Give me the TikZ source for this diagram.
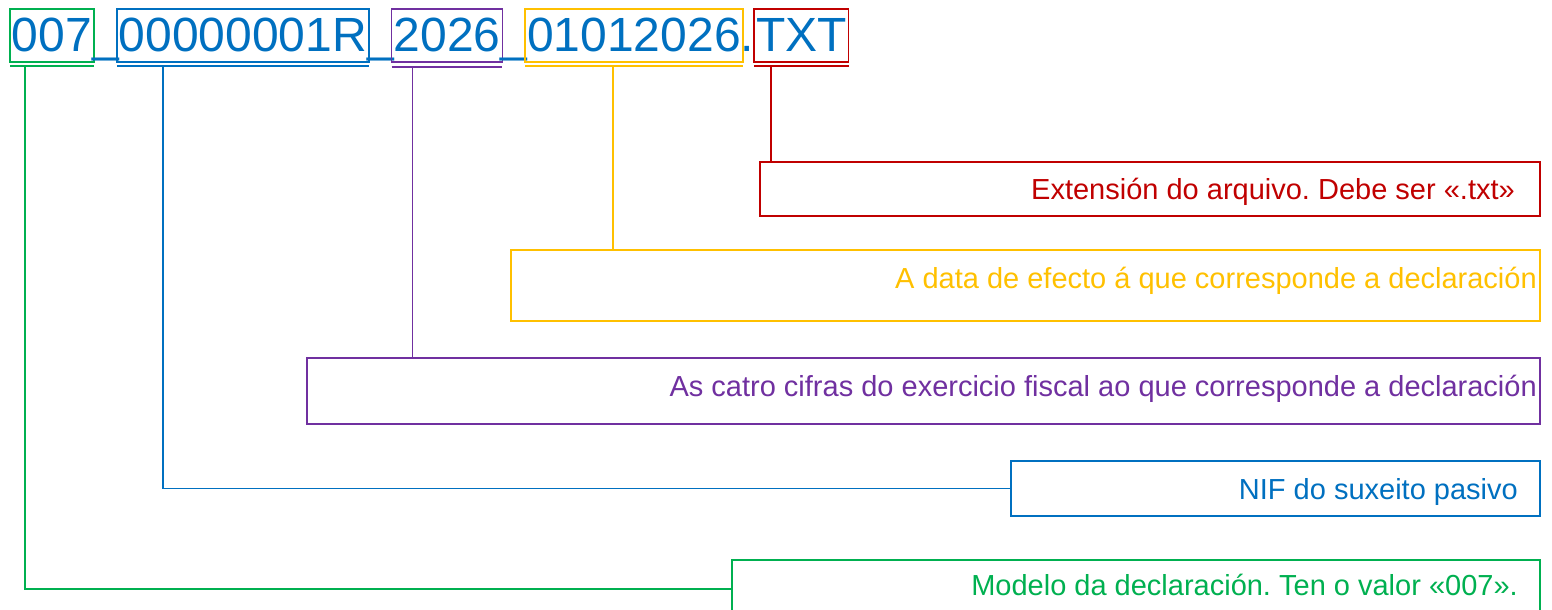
\documentclass[tikz,border=0pt]{standalone}
\usepackage{fontspec}
\setmainfont{Liberation Sans}
\frenchspacing
\usetikzlibrary{calc}
\definecolor{cblue}{HTML}{0070C0}
\definecolor{cgreen}{HTML}{00B050}
\definecolor{cpurple}{HTML}{7030A0}
\definecolor{cyellow}{HTML}{FFC000}
\definecolor{cred}{HTML}{C00000}
\begin{document}
\begin{tikzpicture}[x=1pt,y=-1pt,
  seg/.style={inner xsep=2pt, inner ysep=0pt, outer sep=0pt, text height=43pt, text depth=10pt,
    font=\fontsize{48}{50}\selectfont, text=cblue, draw, line width=1.5pt, anchor=base west},
  sepchar/.style={inner sep=0pt, outer sep=0pt, text height=43pt, text depth=10pt,
    font=\fontsize{48}{50}\selectfont, text=cblue, anchor=base west},
  lbox/.style={draw, line width=1.5pt, inner sep=0pt, outer sep=0pt, anchor=north west},
  ltxt/.style={font=\fontsize{29}{32}\selectfont, inner sep=0pt, anchor=base east},
  conn/.style={line width=1.5pt}
]
\useasboundingbox (0,0) rectangle (1552,610);
\clip (0,0) rectangle (1552,610);

% top file name segments
\node[seg, draw=cgreen] (m) at (10,52) {007};
\node[sepchar] (u1) at ($(m.base east)+(-2,0)$) {\_};
\node[seg, draw=cblue] (n) at ($(u1.base east)+(-2,0)$) {00000001R};
\node[sepchar] (u2) at ($(n.base east)+(-2,0)$) {\_};
\node[seg, draw=cpurple] (yr) at ($(u2.base east)+(-2,0)$) {2026};
\node[sepchar] (u3) at ($(yr.base east)+(-2,0)$) {\_};
\node[seg, draw=cyellow] (dt) at ($(u3.base east)+(-2,0)$) {01012026};
\node[sepchar] (dot) at ($(dt.base east)+(-2,0)$) {.};
\node[seg, draw=cred] (ext) at ($(dot.base east)+(0,0)$) {TXT};

% underlines
\draw[conn, cgreen] ($(m.south west)+(0,4)$) -- ($(m.south east)+(0,4)$);
\draw[conn, cblue] ($(n.south west)+(0,4)$) -- ($(n.south east)+(0,4)$);
\draw[conn, cpurple] ($(yr.south west)+(0,5)$) -- ($(yr.south east)+(0,5)$);
\draw[conn, cyellow] ($(dt.south west)+(0,4)$) -- ($(dt.south east)+(0,4)$);
\draw[conn, cred] ($(ext.south west)+(0,4)$) -- ($(ext.south east)+(0,4)$);

% label boxes
\node[lbox, draw=cred, minimum width=780pt, minimum height=54pt] (bred) at (760,162) {};
\node[lbox, draw=cyellow, minimum width=1029pt, minimum height=71pt] (byel) at (511,250) {};
\node[lbox, draw=cpurple, minimum width=1233pt, minimum height=66pt] (bpur) at (307,358) {};
\node[lbox, draw=cblue, minimum width=529pt, minimum height=55pt] (bblu) at (1011,461) {};
\node[lbox, draw=cgreen, minimum width=808pt, minimum height=60pt] (bgrn) at (732,560) {};

% label texts
\node[ltxt, text=cred] (tred) at ($(bred.north east)+(-25,37)$) {Extensión do arquivo. Debe ser «.txt»};
\node[ltxt, text=cyellow] (tyel) at ($(byel.north east)+(-3,38)$) {A data de efecto á que corresponde a declaración};
\node[ltxt, text=cpurple] (tpur) at ($(bpur.north east)+(-3,38)$) {As catro cifras do exercicio fiscal ao que corresponde a declaración};
\node[ltxt, text=cblue] (tblu) at ($(bblu.north east)+(-22,38)$) {NIF do suxeito pasivo};
\node[ltxt, text=cgreen] (tgrn) at ($(bgrn.north east)+(-22,35)$) {Modelo da declaración. Ten o valor «007».};

% connectors
\coordinate (gend) at ($(bgrn.north west)+(0,29)$);
\draw[conn, cgreen] ($(m.south west)+(15,4)$) |- (gend);
\draw[conn, cblue] ($(n.south west)+(46,4)$) |- (bblu.west);
\coordinate (ptop) at ($(yr.south west)+(21,5)$);
\draw[conn, cpurple] (ptop) -- (ptop |- bpur.north);
\coordinate (ytop) at ($(dt.south west)+(88,4)$);
\draw[conn, cyellow] (ytop) -- (ytop |- byel.north);
\coordinate (rtop) at ($(ext.south west)+(17,4)$);
\draw[conn, cred] (rtop) -- (rtop |- bred.north);
\end{tikzpicture}
\end{document}
